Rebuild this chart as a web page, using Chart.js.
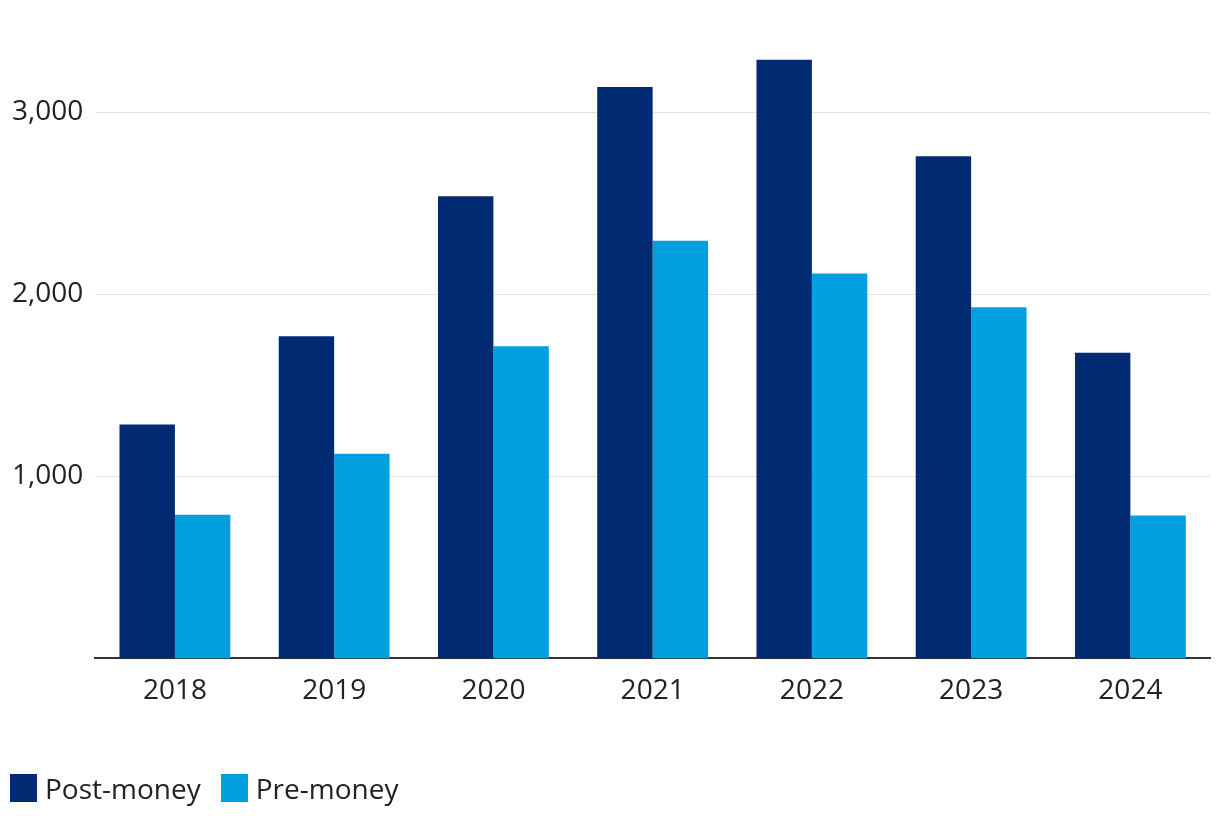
<!DOCTYPE html>
<html>
<head>
<meta charset="utf-8">
<script src="https://cdn.jsdelivr.net/npm/chart.js@4/dist/chart.umd.min.js"></script>
<style>
  html, body { margin: 0; padding: 0; background: #fff; }
  #wrap { position: relative; width: 1220px; height: 828px; }
  #leyenda {
    position: absolute; left: 10px; top: 769px;
    display: flex; align-items: center;
    font-family: "Open Sans", sans-serif; font-size: 28px; color: #222;
  }
  #leyenda .item { display: flex; align-items: center; margin-right: 20px; }
  #leyenda .caja { width: 27px; height: 28px; margin-right: 8px; }
</style>
</head>
<body>
<div id="wrap">
  <canvas id="grafico"></canvas>
  <div id="leyenda"></div>
</div>
<script>
const years = ["2018", "2019", "2020", "2021", "2022", "2023", "2024"];
const postMoney = [1285, 1770, 2540, 3140, 3290, 2760, 1680];
const preMoney = [790, 1125, 1715, 2295, 2115, 1930, 785];
const yTicks = [1000, 2000, 3000];
const seriesNames = ["Post-money", "Pre-money"];
const seriesColors = ["#002B73", "#009FE0"];

const ctx = document.getElementById("grafico").getContext("2d");

const chart = new Chart(ctx, {
  type: "bar",
  data: {
    labels: years,
    datasets: [
      { label: seriesNames[0], data: postMoney, backgroundColor: seriesColors[0] },
      { label: seriesNames[1], data: preMoney, backgroundColor: seriesColors[1] },
    ],
  },
  options: {
    responsive: true,
    maintainAspectRatio: false,
    animation: false,
    layout: { padding: { top: 13, left: 0, right: 10, bottom: 112 } },
    datasets: { bar: { categoryPercentage: 0.696, barPercentage: 1 } },
    scales: {
      x: {
        grid: { display: false },
        border: { color: "#333333", width: 2 },
        ticks: {
          color: "#222222",
          font: { family: "Open Sans", size: 28 },
          padding: 8,
        },
      },
      y: {
        min: 0,
        max: 3460,
        afterBuildTicks: (axis) => {
          axis.ticks = yTicks.map((v) => ({ value: v }));
        },
        grid: { color: "#e2e2e2", drawTicks: false },
        border: { display: false },
        ticks: {
          color: "#222222",
          font: { family: "Open Sans", size: 28 },
          padding: 12,
          callback: (v) => v.toLocaleString("en-US"),
        },
      },
    },
    plugins: {
      tooltip: { enabled: false },
      legend: { display: false },
    },
  },
});

// leyenda en html
const leyenda = document.getElementById("leyenda");
chart.data.datasets.forEach((ds) => {
  const item = document.createElement("div");
  item.className = "item";
  item.innerHTML =
    '<span class="caja" style="background:' + ds.backgroundColor + '"></span>' +
    "<span>" + ds.label + "</span>";
  leyenda.appendChild(item);
});
</script>
</body>
</html>
